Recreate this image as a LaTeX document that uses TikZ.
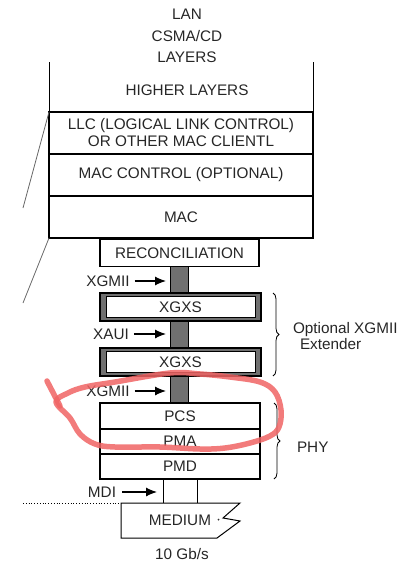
\documentclass[tikz,border=0pt]{standalone}
\usepackage{fontspec}
\setmainfont{Liberation Sans}
\usetikzlibrary{positioning,decorations.pathreplacing,arrows.meta}

\begin{document}
\begin{tikzpicture}[x=1pt, y=-1pt,
    every node/.style={font=\fontsize{15.3}{17}\selectfont, text=black!85, inner sep=0pt, outer sep=0pt},
    layer/.style={draw, line width=1.3pt, minimum width=264pt, minimum height=42pt, align=center},
    stage/.style={draw, line width=1.3pt, minimum width=160pt, minimum height=25pt},
    xgxsframe/.style={draw, line width=1.1pt, fill=bargray, minimum width=161pt, minimum height=28pt},
    xgxsfill/.style={draw, line width=0.6pt, fill=white, minimum width=149pt, minimum height=21pt},
    datapath/.style={draw, line width=0.8pt, fill=bargray, minimum width=18pt, minimum height=27pt},
    feed/.style={-{Latex[length=11pt,width=9pt]}, line width=1.1pt, shorten >=4pt},
    bracedeco/.style={decorate, decoration={brace, amplitude=6pt}, line width=0.8pt},
    edge/.style={line width=1pt},
    redmark/.style={draw=redpen, line width=5.5pt, line cap=round, line join=round, opacity=0.85}]
    % Define colors
    \definecolor{bargray}{RGB}{112, 112, 112}
    \definecolor{redpen}{RGB}{240, 100, 100}

    % Fix the page size
    \useasboundingbox (0,0) rectangle (410,564);

    % Upper layers
    \node[align=center, font=\fontsize{15.3}{21.5}\selectfont] (lan) at (187,36) {LAN\\CSMA/CD\\LAYERS};
    \node (higher) at (187,90) {HIGHER LAYERS};
    \node[layer] (llc) at (181,133) {LLC (LOGICAL LINK CONTROL)\\OR OTHER MAC CLIENTL};
    \node[layer, below=0pt of llc] (macctl) {MAC CONTROL (OPTIONAL)};
    \node[layer, below=0pt of macctl] (mac) {MAC};
    \draw[edge] (llc.north west) -- ++(0,-50);
    \draw[edge] (llc.north east) -- ++(0,-50);

    % Cut-off lines on the left
    \draw[line width=0.8pt, black!60] (llc.north west) -- (23,208);
    \draw[line width=0.8pt, black!60] (mac.south west) -- (23,303);

    % Reconciliation and XGXS
    \node[stage, minimum width=159pt, minimum height=27pt] (recon) at (179.5,253) {RECONCILIATION};
    \node[datapath] (bara) at (179,279.5) {};
    \node[xgxsframe] (xgxsa) at (180.5,307) {};
    \node[xgxsfill] (xgxsatxt) at (xgxsa) {XGXS};
    \node[datapath] (barb) at (179,334.5) {};
    \node[xgxsframe] (xgxsb) at (180.5,362) {};
    \node[xgxsfill] (xgxsbtxt) at (xgxsb) {XGXS};
    \node[datapath] (barc) at (179,389.5) {};

    % PHY sublayers
    \node[stage, minimum height=26pt] (pcs) at (180,416) {PCS};
    \node[stage, below=0pt of pcs] (pma) {PMA};
    \node[stage, below=0pt of pma] (pmd) {PMD};

    % Interface labels
    \node (xgmiia) at (108,281) {XGMII};
    \node (xaui) at (111,334) {XAUI};
    \node (xgmiib) at (108,391) {XGMII};
    \node (mdi) at (102,492) {MDI};
    \draw[feed] ([xshift=5pt]xgmiia.east) -- (xgmiia.east -| bara.west);
    \draw[feed] ([xshift=5pt]xaui.east) -- (xaui.east -| barb.west);
    \draw[feed] ([xshift=5pt]xgmiib.east) -- (xgmiib.east -| barc.west);

    % Braces
    \draw[bracedeco] ([xshift=12pt]xgxsa.north east) -- ([xshift=12pt]xgxsb.south east);
    \node[anchor=west, align=left, font=\fontsize{15.3}{16.5}\selectfont] (extlbl) at (293,336) {Optional XGMII\\\hspace*{7pt}Extender};
    \draw[bracedeco] ([xshift=14pt]pcs.north east) -- ([xshift=14pt]pmd.south east);
    \node[anchor=west] (phylbl) at (297,447) {PHY};

    % Medium
    \coordinate (medtop) at (180,503);
    \coordinate (mdia) at ([xshift=-17pt]medtop);
    \coordinate (mdib) at ([xshift=17pt]medtop);
    \draw[edge] ([xshift=-17pt]pmd.south) -- (mdia);
    \draw[edge] ([xshift=17pt]pmd.south) -- (mdib);
    \draw[feed, shorten >=6pt] ([xshift=6pt]mdi.east) -- (mdi.east -| mdia);
    \draw[line width=0.8pt, dotted] (23,503) -- (121,503);
    \draw[edge] (121,503) -- (240,503) -- (223,518) -- (240,521) -- (217,538) -- (121,538) -- cycle;
    \node (medium) at (180,520) {MEDIUM};
    \fill[black!80] (218.5,519.5) circle (1pt);
    \node (rate) at (182,554) {10 Gb/s};

    % Red pen mark
    \draw[redmark] plot[smooth cycle, tension=0.6] coordinates {(56,402) (68,393) (85,387) (115,382) (170,373) (200,374) (230,377) (260,382) (275,392) (281,410) (279,427) (270,436) (250,443) (225,448) (200,449) (160,447) (115,447) (95,444) (80,434) (70,418)};
    \draw[redmark] (47,381) -- (60,406);

\end{tikzpicture}
\end{document}
